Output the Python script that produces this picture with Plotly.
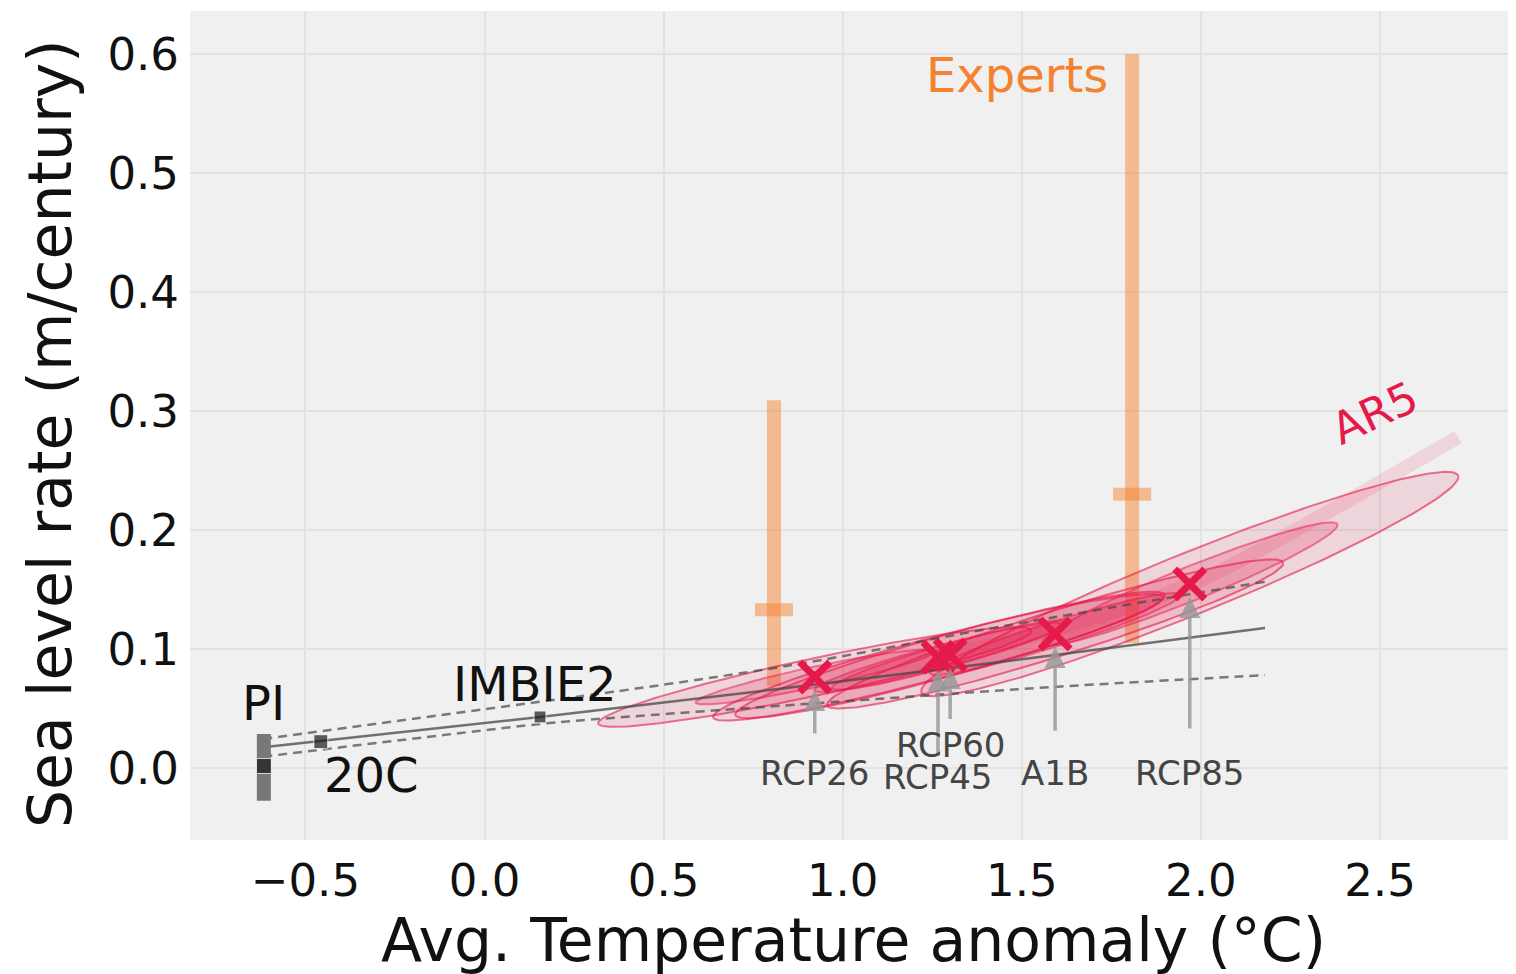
import numpy as np
import plotly.graph_objects as go

# ---------------- data ----------------
# AR5 scenarios (mean temperature anomaly, sea level rate)
scen_names = ["RCP26", "RCP45", "RCP60", "A1B", "RCP85"]
scen_temp = [0.922, 1.266, 1.300, 1.593, 1.969]
scen_rate = [0.0765, 0.093, 0.095, 0.1126, 0.1546]
# ellipse spread: major-axis half extent (temp, rate) and vertical half width
ell_dT = [0.605, 0.628, 0.600, 0.637, 0.750]
ell_dR = [0.0387, 0.050, 0.050, 0.0594, 0.090]
ell_h = [0.016, 0.018, 0.018, 0.020, 0.028]

# AR5 trend band
ar5_band_temp = [1.30, 1.60, 2.00, 2.229, 2.718]
ar5_band_rate = [0.096, 0.117, 0.158, 0.194, 0.278]

# Experts (median and range)
exp_temp = [0.808, 1.808]
exp_med = [0.133, 0.230]
exp_low = [0.069, 0.105]
exp_high = [0.309, 0.600]

# Observational points
pi_temp, pi_rate, pi_low, pi_high = -0.616, 0.0017, -0.0275, 0.0286
c20_temp, c20_rate = -0.457, 0.0221
imbie_temp, imbie_rate = 0.155, 0.0429

# Calibration lines
fit_mid_temp = [-0.618, 0.155, 1.44, 2.179]
fit_mid_rate = [0.0174, 0.0429, 0.089, 0.1176]
fit_up_temp = [-0.618, 0.155, 0.359, 0.861, 1.439, 2.179]
fit_up_rate = [0.0244, 0.0557, 0.064, 0.0866, 0.1187, 0.1566]
fit_lo_temp = [-0.618, 0.155, 0.267, 1.048, 1.60, 2.179]
fit_lo_rate = [0.0095, 0.037, 0.040, 0.057, 0.0683, 0.078]

x_tickvals = [-0.5, 0.0, 0.5, 1.0, 1.5, 2.0, 2.5]
x_ticktext = ["\u22120.5", "0.0", "0.5", "1.0", "1.5", "2.0", "2.5"]
y_tickvals = [0.0, 0.1, 0.2, 0.3, 0.4, 0.5, 0.6]
y_ticktext = ["0.0", "0.1", "0.2", "0.3", "0.4", "0.5", "0.6"]

# ---------------- style ----------------
FONT = "DejaVu Sans"
CRIMSON = "#E6194B"
ORANGE = "#F58231"
BG = "#F0F0F0"
GRID = "#E2E2E2"

fig = go.Figure()

# Experts bars
cap = 0.053
for t, m, lo, hi in zip(exp_temp, exp_med, exp_low, exp_high):
    fig.add_trace(go.Scatter(x=[t, t], y=[lo, hi], mode="lines",
                             line=dict(color="rgba(245,130,49,0.5)", width=14),
                             hoverinfo="skip", showlegend=False))
    fig.add_trace(go.Scatter(x=[t - cap, t + cap], y=[m, m], mode="lines",
                             line=dict(color="rgba(245,130,49,0.5)", width=13),
                             hoverinfo="skip", showlegend=False))

# AR5 ellipses
theta = np.linspace(0, 2 * np.pi, 200)
for tc, rc, dT, dR, h in zip(scen_temp, scen_rate, ell_dT, ell_dR, ell_h):
    for k, fa, la in [(1.0, 0.12, 0.6), (0.55, 0.2, 0.5)]:
        T = tc + k * dT * np.cos(theta)
        R = rc + k * dR * np.cos(theta) + k * h * np.sin(theta)
        fig.add_trace(go.Scatter(x=T, y=R, mode="lines", fill="toself",
                                 fillcolor=f"rgba(230,25,75,{fa})",
                                 line=dict(color=f"rgba(230,25,75,{la})", width=2),
                                 hoverinfo="skip", showlegend=False))

fig.add_trace(go.Scatter(x=ar5_band_temp, y=ar5_band_rate, mode="lines",
                         line=dict(color="rgba(230,25,75,0.12)", width=14, shape="spline"),
                         hoverinfo="skip", showlegend=False))

# Calibration lines
fig.add_trace(go.Scatter(x=fit_mid_temp, y=fit_mid_rate, mode="lines",
                         line=dict(color="rgba(70,70,70,0.75)", width=2.5, shape="spline"),
                         hoverinfo="skip", showlegend=False))
for tt, rr in [(fit_up_temp, fit_up_rate), (fit_lo_temp, fit_lo_rate)]:
    fig.add_trace(go.Scatter(x=tt, y=rr, mode="lines",
                             line=dict(color="rgba(70,70,70,0.7)", width=2.5,
                                       dash="9px,6px", shape="spline"),
                             hoverinfo="skip", showlegend=False))

# PI bar and markers
fig.add_trace(go.Scatter(x=[pi_temp, pi_temp], y=[pi_low, pi_high], mode="lines",
                         line=dict(color="rgb(120,120,120)", width=14),
                         hoverinfo="skip", showlegend=False))
fig.add_trace(go.Scatter(x=[pi_temp, c20_temp, imbie_temp],
                         y=[pi_rate, c20_rate, imbie_rate], mode="markers",
                         marker=dict(symbol="square", size=[15, 14, 12], color="#1A1A1A"),
                         hoverinfo="skip", showlegend=False))

# AR5 crosses
fig.add_trace(go.Scatter(x=scen_temp, y=scen_rate, mode="markers",
                         marker=dict(symbol="x-thin", size=30,
                                     line=dict(color=CRIMSON, width=7)),
                         hoverinfo="skip", showlegend=False))

# Arrows + scenario labels
tip_gap = 0.011
arrow_tail = {"RCP26": 0.0277, "RCP45": 0.009, "RCP60": 0.040, "A1B": 0.030, "RCP85": 0.032}
label_y = {"RCP26": -0.004, "RCP45": -0.0076, "RCP60": 0.019, "A1B": -0.004, "RCP85": -0.004}
for n, t, r in zip(scen_names, scen_temp, scen_rate):
    fig.add_annotation(x=t, y=r - tip_gap, ax=t, ay=arrow_tail[n], xref="x", yref="y",
                       axref="x", ayref="y", text="", showarrow=True, arrowhead=2,
                       arrowsize=1.2, arrowwidth=3.5, arrowcolor="rgba(150,150,150,0.8)",
                       standoff=0, startstandoff=0)
for n, t in zip(scen_names, scen_temp):
    fig.add_annotation(x=t, y=label_y[n], xref="x", yref="y", text=n, showarrow=False,
                       font=dict(family=FONT, size=34, color="#444444"),
                       xanchor="center", yanchor="middle")

# Other labels
fig.add_annotation(x=pi_temp, y=0.055, text="PI", showarrow=False,
                   font=dict(family=FONT, size=48, color="#111111"), xanchor="center", yanchor="middle")
fig.add_annotation(x=-0.453, y=-0.006, text="20C", showarrow=False,
                   font=dict(family=FONT, size=48, color="#111111"), xanchor="left", yanchor="middle")
fig.add_annotation(x=0.14, y=0.071, text="IMBIE2", showarrow=False,
                   font=dict(family=FONT, size=48, color="#111111"), xanchor="center", yanchor="middle")
fig.add_annotation(x=1.745, y=0.582, text="Experts", showarrow=False,
                   font=dict(family=FONT, size=48, color=ORANGE), xanchor="right", yanchor="middle")
fig.add_annotation(x=2.486, y=0.299, text="AR5", showarrow=False, textangle=-25,
                   font=dict(family=FONT, size=44, color=CRIMSON), xanchor="center", yanchor="middle")

# Axis titles
fig.add_annotation(x=0.5, y=0, xref="paper", yref="paper", yshift=-100, showarrow=False,
                   text="Avg. Temperature anomaly (\u00b0C)",
                   font=dict(family=FONT, size=60, color="#111111"), xanchor="center", yanchor="middle")
fig.add_annotation(x=0, y=0.4897, xref="paper", yref="paper", xshift=-140, showarrow=False,
                   text="Sea level rate (m/century)", textangle=-90,
                   font=dict(family=FONT, size=60, color="#111111"), xanchor="center", yanchor="middle")

# page body adds an 8px margin, so the figure is sized/offset to compensate
fig.update_layout(
    width=1516, height=966,
    margin=dict(l=182, r=8, t=3, b=134),
    paper_bgcolor="white", plot_bgcolor=BG,
    font=dict(family=FONT, color="#111111"),
    showlegend=False,
)
fig.update_xaxes(range=[-0.8222, 2.8797], tickvals=x_tickvals, ticktext=x_ticktext,
                 showgrid=True, gridcolor=GRID, gridwidth=2, zeroline=False,
                 showline=False, ticks="", ticklabelstandoff=10,
                 tickfont=dict(family=FONT, size=45, color="#111111"))
fig.update_yaxes(range=[-0.0605, 0.6361], tickvals=y_tickvals, ticktext=y_ticktext,
                 showgrid=True, gridcolor=GRID, gridwidth=2, zeroline=False,
                 showline=False, ticks="", ticklabelstandoff=10,
                 tickfont=dict(family=FONT, size=45, color="#111111"))

fig.write_html("out.html")
